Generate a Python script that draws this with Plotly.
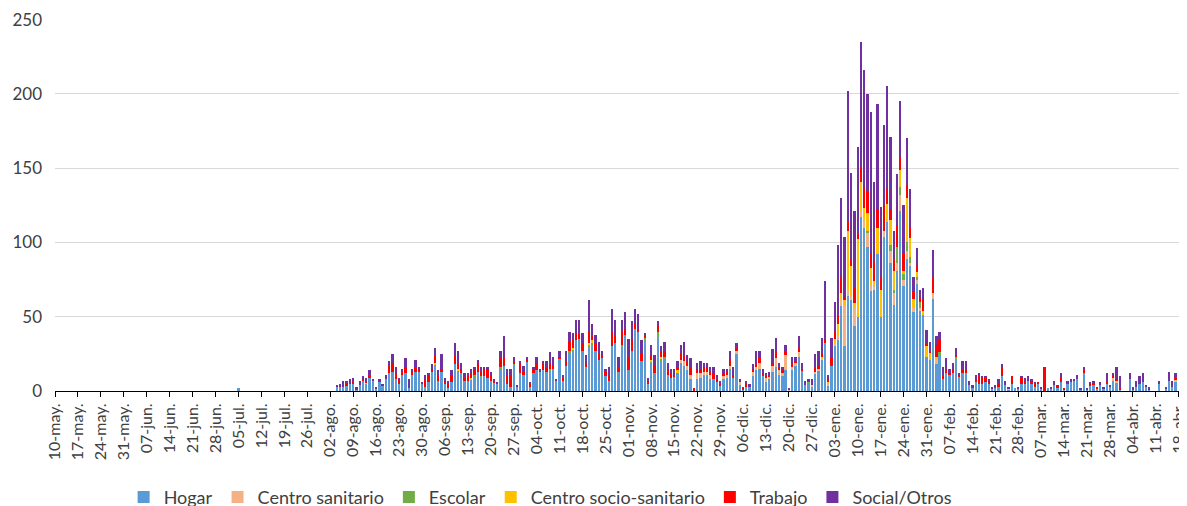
import pandas as pd
import plotly.graph_objects as go

# Casos diarios por ámbito de contagio (series densas desde 05-jul-2020)
inicio = "2020-07-05"

hogar = [
    2, 0, 0, 0, 0, 0, 0, 0, 0, 0, 0, 0, 0, 0, 0, 0, 0, 0, 0, 0, 0, 0, 0, 0, 0, 0, 0, 0, 0, 0,
    3, 3, 3, 4, 5, 5, 1, 4, 7, 5, 9, 7, 2, 6, 4, 8, 12, 13, 8, 5, 11, 12, 2, 11, 13, 13, 5, 3, 6, 13,
    18, 7, 13, 5, 2, 6, 18,
    14, 12, 7, 7, 8, 10, 13, 9, 10, 9, 7, 6, 5, 15, 17, 5, 3, 17, 3, 12, 11, 20, 3, 12, 14, 13, 14, 13,
    14, 15, 7, 21, 7, 17, 26, 27, 34, 35,
    27, 16, 30, 30, 27, 21, 22, 10, 7, 30, 32, 13, 29, 38, 14, 27, 42, 40, 20, 33, 5, 19, 12, 36, 20, 22,
    11, 9, 10, 12, 19, 17, 14, 8, 0, 8, 9, 11,
    11, 8, 8, 6, 4, 8, 9, 15, 9, 25, 4, 1, 3, 3, 10, 14, 15, 10, 6, 8, 13, 16, 11, 10, 14, 0, 14, 17,
    23, 14, 4, 5, 3, 12,
    14, 21, 32, 4, 17, 30, 34, 57, 30, 64, 61, 44, 50, 117, 110, 97, 67, 68, 92, 50, 104, 114, 86, 58,
    81, 121, 71, 89, 84, 53, 72, 54, 51, 23, 21, 62, 18, 24, 8, 12, 11, 12, 22,
    9, 12, 12, 4, 2, 6, 5, 5, 6, 5, 2, 2, 3, 10, 4, 1, 5, 2, 2, 5, 5, 7, 5, 3, 5, 2, 0, 2, 2,
    4, 2, 6, 1, 5, 6, 7, 8, 1, 12, 1, 4, 4, 2, 4, 2, 5, 3, 7, 6, 1, 0, 0, 8, 1, 3, 5, 6, 3, 1,
    0, 0, 5, 0, 2, 7, 3, 6,
]

trabajo = [
    0, 0, 0, 0, 0, 0, 0, 0, 0, 0, 0, 0, 0, 0, 0, 0, 0, 0, 0, 0, 0, 0, 0, 0, 0, 0, 0, 0, 0, 0,
    0, 0, 0, 1, 0, 1, 0, 0, 1, 1, 1, 0, 0, 0, 0, 0, 5, 6, 4, 3, 2, 4, 0, 3, 3, 2, 0, 5, 5, 2,
    5, 3, 2, 2, 4, 5, 6,
    4, 3, 2, 3, 3, 3, 6, 3, 5, 6, 3, 1, 0, 6, 6, 5, 8, 2, 0, 6, 2, 1, 2, 2, 5, 0, 4, 3,
    3, 2, 0, 1, 2, 3, 6, 5, 5, 4,
    5, 3, 8, 3, 5, 4, 2, 3, 4, 10, 6, 3, 9, 4, 8, 8, 3, 2, 5, 1, 2, 3, 5, 4, 3, 4,
    4, 3, 1, 2, 4, 4, 3, 5, 2, 3, 2, 3,
    3, 2, 4, 2, 1, 2, 2, 4, 2, 2, 0, 2, 2, 0, 1, 3, 3, 2, 1, 1, 2, 5, 2, 2, 2, 0, 2, 1,
    3, 1, 0, 0, 0, 3,
    2, 2, 3, 2, 6, 5, 6, 10, 2, 6, 5, 10, 4, 10, 14, 14, 10, 13, 12, 8, 17, 9, 7, 7,
    15, 8, 11, 8, 7, 5, 4, 3, 8, 2, 1, 10, 8, 8, 3, 2, 1, 3, 1,
    1, 2, 3, 0, 0, 2, 6, 4, 3, 2, 0, 0, 2, 6, 0, 0, 5, 0, 0, 4, 1, 0, 2, 2, 1, 0, 16, 0, 0,
    0, 2, 3, 1, 0, 0, 0, 0, 0, 2, 0, 1, 2, 1, 0, 0, 1, 0, 1, 1, 1, 0, 0, 0, 0, 0, 0, 0, 0, 1,
    0, 0, 0, 0, 0, 0, 0, 1,
]

social = [
    0, 0, 0, 0, 0, 0, 0, 0, 0, 0, 0, 0, 0, 0, 0, 0, 0, 0, 0, 0, 0, 0, 0, 0, 0, 0, 0, 0, 0, 0,
    1, 2, 4, 2, 3, 3, 2, 3, 2, 2, 4, 1, 1, 2, 1, 3, 3, 6, 4, 1, 2, 6, 6, 1, 5, 1, 1, 3, 1, 3,
    5, 4, 10, 2, 1, 3, 8,
    8, 4, 3, 2, 3, 2, 2, 3, 1, 1, 3, 1, 1, 5, 14, 5, 4, 3, 1, 2, 4, 2, 1, 2, 4, 2, 2, 4,
    8, 6, 1, 4, 2, 7, 7, 5, 9, 9,
    7, 5, 21, 8, 6, 8, 3, 2, 5, 15, 10, 7, 8, 11, 13, 12, 10, 10, 9, 2, 2, 7, 7, 3, 4, 6,
    4, 3, 4, 4, 6, 9, 4, 6, 0, 4, 6, 3,
    3, 3, 4, 3, 2, 3, 2, 6, 5, 3, 2, 0, 2, 2, 4, 8, 5, 3, 2, 2, 9, 9, 3, 2, 5, 1, 5, 3,
    8, 4, 3, 2, 4, 9,
    10, 11, 39, 3, 13, 20, 47, 54, 41, 88, 58, 52, 58, 84, 79, 66, 95, 54, 71, 48, 54, 70, 49, 20,
    34, 38, 33, 32, 26, 10, 12, 5, 7, 9, 6, 19, 6, 6, 5, 8, 3, 4, 5,
    1, 6, 5, 3, 2, 3, 1, 1, 1, 1, 1, 2, 3, 2, 3, 1, 0, 0, 1, 1, 3, 3, 1, 1, 0, 1, 0, 0, 1,
    3, 0, 3, 0, 2, 2, 1, 3, 1, 2, 1, 1, 1, 0, 2, 1, 6, 1, 2, 8, 8, 0, 0, 4, 2, 4, 5, 6, 1, 1,
    0, 0, 2, 0, 1, 6, 4, 3,
]

# Series poco frecuentes: fecha -> casos
sanitario_fechas = [
    "2020-11-17", "2020-11-18", "2020-11-19", "2020-11-20", "2020-11-22", "2020-11-23", "2020-11-24",
    "2020-11-25", "2020-11-26", "2020-11-30", "2020-12-01", "2020-12-02", "2020-12-04", "2020-12-05",
    "2020-12-09", "2020-12-10", "2020-12-11", "2020-12-13", "2020-12-14", "2020-12-15", "2020-12-16",
    "2020-12-17", "2020-12-18", "2020-12-19", "2020-12-20", "2020-12-21", "2020-12-22", "2020-12-23",
    "2020-12-27", "2020-12-28", "2020-12-29", "2020-12-30", "2021-01-01", "2021-01-03", "2021-01-04",
    "2021-01-05", "2021-01-06", "2021-01-07", "2021-01-08", "2021-01-09", "2021-01-11", "2021-01-12",
    "2021-01-13", "2021-01-14", "2021-01-15", "2021-01-18", "2021-01-20", "2021-01-21", "2021-01-22",
    "2021-01-23", "2021-01-24", "2021-01-25", "2021-01-26", "2021-01-27", "2021-01-28", "2021-01-29",
    "2021-02-02", "2021-02-03", "2021-02-25", "2021-03-29", "2021-03-30", "2021-04-17",
]
sanitario = [
    2, 3, 3, 3, 4, 3, 2,
    2, 3, 2, 2, 2, 2, 2,
    3, 2, 4, 3, 2, 4, 6,
    3, 2, 10, 1, 2, 2, 3,
    1, 1, 1, 1, 1, 2, 3,
    4, 28, 4, 3, 12, 4, 5,
    10, 4, 3, 4, 8, 8, 5,
    11, 4, 5, 2, 3, 3, 2,
    4, 3, 1, 2, 1, 2,
]

escolar_fechas = [
    "2020-09-15", "2020-09-17", "2020-09-23", "2020-09-27", "2020-10-08", "2020-10-11", "2020-10-14",
    "2020-10-15", "2020-10-20", "2020-10-21", "2020-10-30", "2020-11-06", "2020-11-08", "2020-11-10",
    "2020-11-11", "2020-11-12", "2020-12-26", "2021-01-13", "2021-01-20", "2021-01-21", "2021-01-22",
    "2021-01-23", "2021-01-24", "2021-01-25", "2021-01-26", "2021-01-28", "2021-01-29", "2021-02-04",
    "2021-02-09", "2021-02-10",
]
escolar = [
    1, 1, 1, 1, 1, 1, 1,
    1, 1, 2, 2, 3, 1, 4,
    2, 1, 1, 1, 4, 2, 11,
    5, 4, 6, 4, 2, 4, 2,
    1, 1,
]

sociosan_fechas = [
    "2020-08-13", "2020-09-03", "2020-09-10", "2020-09-14", "2020-10-15", "2020-10-20", "2020-10-21",
    "2020-11-08", "2020-11-11", "2020-11-16", "2020-12-30", "2021-01-01", "2021-01-03", "2021-01-04",
    "2021-01-05", "2021-01-06", "2021-01-07", "2021-01-08", "2021-01-09", "2021-01-10", "2021-01-11",
    "2021-01-12", "2021-01-13", "2021-01-14", "2021-01-15", "2021-01-16", "2021-01-17", "2021-01-19",
    "2021-01-20", "2021-01-21", "2021-01-23", "2021-01-24", "2021-01-25", "2021-01-26", "2021-01-27",
    "2021-01-28", "2021-01-30", "2021-01-31", "2021-02-01", "2021-02-03",
]
sociosan = [
    1, 1, 1, 1, 1, 1, 2,
    1, 1, 2, 1, 1, 3, 8,
    5, 3, 40, 20, 3, 52, 20,
    8, 12, 12, 3, 18, 18, 12,
    17, 13, 12, 2, 30, 13, 6,
    3, 3, 7, 5, 2,
]

meses = ["ene", "feb", "mar", "abr", "may", "jun", "jul", "ago", "sep", "oct", "nov", "dic"]

fechas = pd.date_range(inicio, periods=len(hogar), freq="D")
ticks = pd.date_range("2020-05-10", "2021-04-18", freq="7D")
tick_text = [f"{d.day:02d}-{meses[d.month - 1]}." for d in ticks]

colores = {
    "Hogar": "#5B9BD5",
    "Centro sanitario": "#F4B183",
    "Escolar": "#70AD47",
    "Centro socio-sanitario": "#FFC000",
    "Trabajo": "#FF0000",
    "Social/Otros": "#7030A0",
}

fig = go.Figure()
fig.add_trace(go.Bar(x=fechas, y=hogar, name="Hogar", marker_color=colores["Hogar"]))
fig.add_trace(go.Bar(x=pd.to_datetime(sanitario_fechas), y=sanitario, name="Centro sanitario",
                     marker_color=colores["Centro sanitario"]))
fig.add_trace(go.Bar(x=pd.to_datetime(escolar_fechas), y=escolar, name="Escolar",
                     marker_color=colores["Escolar"]))
fig.add_trace(go.Bar(x=pd.to_datetime(sociosan_fechas), y=sociosan, name="Centro socio-sanitario",
                     marker_color=colores["Centro socio-sanitario"]))
fig.add_trace(go.Bar(x=fechas, y=trabajo, name="Trabajo", marker_color=colores["Trabajo"]))
fig.add_trace(go.Bar(x=fechas, y=social, name="Social/Otros", marker_color=colores["Social/Otros"]))

fig.update_traces(marker_line_width=0)

# La página tiene 8 px de margen en el body: se compensa en los márgenes
fig.update_layout(
    width=1187,
    height=506,
    barmode="stack",
    bargap=0.3,
    paper_bgcolor="white",
    plot_bgcolor="white",
    font=dict(family="Lato, Liberation Sans, sans-serif", color="#404040"),
    margin=dict(l=47, r=8, t=11, b=123, autoexpand=False),
    showlegend=True,
    legend=dict(
        orientation="h",
        x=0.429,
        xanchor="center",
        y=-0.286,
        yanchor="middle",
        font=dict(size=18, color="#404040"),
        traceorder="normal",
        itemwidth=30,
    ),
)

fig.update_xaxes(
    type="date",
    range=["2020-05-10", "2021-04-20 12:00"],
    tickvals=ticks,
    ticktext=tick_text,
    tickangle=-90,
    tickfont=dict(size=16, color="#404040"),
    ticklabeloverflow="allow",
    showline=True,
    linecolor="black",
    linewidth=1,
    ticks="outside",
    ticklen=5,
    tickcolor="black",
    showgrid=False,
)

fig.update_yaxes(
    range=[0, 250.4],
    dtick=50,
    tickfont=dict(size=17, color="#404040"),
    ticklabeloverflow="allow",
    showgrid=True,
    gridcolor="#D9D9D9",
    gridwidth=1,
    zeroline=False,
    showline=False,
    ticklabelstandoff=12,
)

fig.write_html("out.html")
